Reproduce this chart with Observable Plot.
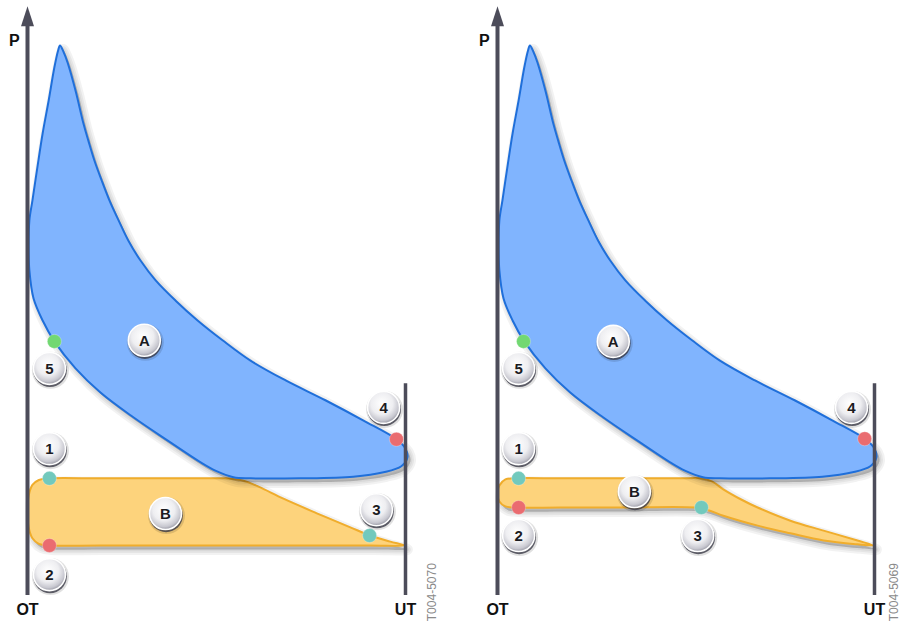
<!DOCTYPE html>
<html><head><meta charset="utf-8">
<script src="https://cdn.jsdelivr.net/npm/d3@7"></script>
<script src="https://cdn.jsdelivr.net/npm/@observablehq/plot@0.6"></script>
<style>
html,body{margin:0;padding:0;background:#fff;}
#wrap{display:flex;width:901px;height:622px;overflow:hidden;}
#wrap svg{display:block;overflow:visible;}
</style></head><body>
<svg width="0" height="0" style="position:absolute">
<defs>
 <radialGradient id="badgeFill" cx="45%" cy="38%" r="62%">
  <stop offset="0%" stop-color="#ffffff"/>
  <stop offset="55%" stop-color="#eeeef1"/>
  <stop offset="85%" stop-color="#c8c8d0"/>
  <stop offset="100%" stop-color="#9a9aa5"/>
 </radialGradient>
</defs></svg>
<div id="wrap"></div>
<script>
// volume v: 0 = OT, 100 = UT ; pressure p: arbitrary units (peak = 100)
const loopA = [[8.6,100],[9.5,98.9],[10.6,96.9],[12.7,91.8],[14.8,85.8],[16.1,82.7],[17.7,79.1],[19.6,75.5],[21.7,71.8],[24.1,68.2],[26.7,64.5],[29.9,60.9],[33.9,57.3],[39.2,53.6],[45.0,50.0],[51.6,46.4],[59.0,42.7],[68.3,39.1],[78.8,35.5],[88.9,31.8],[97.6,28.4],[100.0,26.7],[100.5,25.1],[98.9,23.5],[94.2,22.4],[86.2,21.6],[72.2,21.3],[59.0,21.3],[54.5,21.5],[49.7,22.7],[45.8,24.2],[37.0,28.2],[28.0,32.4],[19.3,36.9],[12.7,41.3],[7.1,46.2],[4.0,50.0],[1.6,54.0],[0.5,59.1],[0.3,63.6],[0.5,68.2],[1.3,71.8],[2.6,77.8],[4.0,84.0],[5.6,90.0],[7.1,96.0],[8.1,99.1]];
const loopBLeft = [[5.6,21.3],[19.3,21.3],[35.2,21.3],[45.8,21.3],[52.4,21.3],[56.9,20.9],[61.1,19.8],[67.7,17.6],[76.7,14.9],[85.4,12.4],[90.7,10.9],[96.0,9.8],[99.7,9.1],[90.7,9.1],[72.2,9.1],[45.8,9.1],[19.3,9.1],[5.6,9.1],[3.0,9.4],[1.3,10.4],[0.3,12.4],[0,15.3],[0.3,18.1],[1.3,20.1],[3.0,21.0]];
const loopBRight = [[4.5,21.3],[16.7,21.3],[32.5,21.3],[48.4,21.3],[53.8,21.3],[57.0,20.7],[59.9,19.3],[64.5,17.5],[69.0,16.0],[77.7,13.6],[86.5,11.8],[95.5,10.0],[99.7,9.1],[95.5,9.3],[86.5,10.0],[77.7,11.3],[69.0,12.7],[59.9,14.5],[55.9,15.5],[52.5,16.0],[32.5,16.0],[16.7,16.0],[4.5,16.0],[2.1,16.2],[0.5,17.1],[0,18.7],[0.5,20.0],[2.1,21.1]];
const stateKinds = ["G","R","T"];
const stateDotsLeft = [[7.1,46.2,"G"],[97.6,28.4,"R"],[5.8,21.3,"T"],[5.8,9.1,"R"],[90.5,10.9,"T"]];
const stateDotsRight = [[6.9,46.2,"G"],[97.4,28.5,"R"],[5.6,21.3,"T"],[5.6,16.0,"R"],[54.1,16.0,"T"]];
const badgesLeft = [["A",30.9,46.4],["5",5.8,41.3],["4",94.2,34.2],["1",5.8,26.7],["B",36.5,14.9],["3",92.3,15.6],["2",5.8,3.8]];
const badgesRight = [["A",30.7,46.2],["5",5.6,41.3],["4",93.9,34.2],["1",5.6,26.7],["B",36.3,18.9],["2",5.6,10.9],["3",53.1,10.9]];
const axisLabels = [["P",-3.5,100.9],["OT",0,-2.7],["UT",100,-2.7]];
const axisTop = 103.5, utTop = 38.5;
const codesLeft = [["T004-5070",107.1,0.6]];
const codesRight = [["T004-5069",105.3,0.6]];

const stateColors = ["#72d872","#ea6c70","#72c9bd"];
const axisColor = "#4c4c5a";
const arrowHead = {draw(ctx){ ctx.moveTo(0,-20); ctx.lineTo(6.5,0); ctx.lineTo(-6.5,0); ctx.closePath(); }};

const pts = a => a.map(([v,p]) => ({v,p}));
const lab = a => a.map(([t,v,p,k]) => ({t,v,p,k}));

const panels = [
  {loopB: loopBLeft, dots: stateDotsLeft, badges: badgesLeft, codes: codesLeft, width: 450, ml: 27, mr: 45},
  {loopB: loopBRight, dots: stateDotsRight, badges: badgesRight, codes: codesRight, width: 451, ml: 47, mr: 27}
];

const loopStyle = {x: "v", y: "p", curve: "catmull-rom-closed"};
// soft shadow built from a few translucent layers (no filters)
const shadowLayers = (data) => [11, 7, 3.5].map(w =>
  Plot.line(data, {...loopStyle, fill: "#000", fillOpacity: 0.07, stroke: "#000", strokeOpacity: 0.05, strokeWidth: w, strokeLinejoin: "round", dx: 3, dy: 4}));

const wrap = document.getElementById("wrap");
for (const cfg of panels) {
  const badges = lab(cfg.badges);
  const svg = Plot.plot({
    width: cfg.width, height: 622,
    marginTop: 45, marginBottom: 27, marginLeft: cfg.ml, marginRight: cfg.mr,
    x: {domain: [0, 100], axis: null},
    y: {domain: [0, 100], axis: null},
    color: {type: "ordinal", domain: stateKinds, range: stateColors},
    style: {fontFamily: "'Liberation Sans', Arial, sans-serif", background: "transparent", overflow: "visible"},
    marks: [
      ...shadowLayers(pts(cfg.loopB)),
      Plot.line(pts(cfg.loopB), {...loopStyle, fill: "#fdd37c", stroke: "#f0ad2c", strokeWidth: 2}),
      ...shadowLayers(pts(loopA)),
      Plot.line(pts(loopA), {...loopStyle, fill: "#80b4fe", stroke: "#1f6fda", strokeWidth: 2}),
      Plot.ruleX([100], {y1: 0, y2: utTop, stroke: axisColor, strokeWidth: 3.5}),
      Plot.ruleX([0], {y1: 0, y2: axisTop, stroke: axisColor, strokeWidth: 4}),
      Plot.dot([{v: 0, p: axisTop}], {x: "v", y: "p", symbol: arrowHead, r: 5, fill: axisColor, stroke: "none"}),
      Plot.dot(lab(cfg.dots.map(([v,p,k]) => ["",v,p,k])), {x: "v", y: "p", r: 7, fill: "k", stroke: "#ffffff", strokeOpacity: 0.35, strokeWidth: 0.8}),
      Plot.dot(badges, {x: "v", y: "p", r: 18.5, fill: "#000", fillOpacity: 0.12, dx: 1, dy: 2}),
      Plot.dot(badges, {x: "v", y: "p", r: 16.8, fill: "#3a3a46", fillOpacity: 0.8, dx: 0.6, dy: 1.8}),
      Plot.dot(badges, {x: "v", y: "p", r: 16, fill: "url(#badgeFill)", stroke: "#ffffff", strokeWidth: 1.6}),
      Plot.text(badges, {x: "v", y: "p", text: "t", fontSize: 15, fontWeight: "bold", fill: "#1b1b1f", dy: 0.5}),
      Plot.text(lab(axisLabels), {x: "v", y: "p", text: "t", fontSize: 16, fontWeight: "bold", fill: "#111"}),
      Plot.text(lab(cfg.codes), {x: "v", y: "p", text: "t", rotate: -90, fontSize: 12, fill: "#8a8a8a"})
    ]
  });
  wrap.appendChild(svg);
}
</script>
</body></html>
